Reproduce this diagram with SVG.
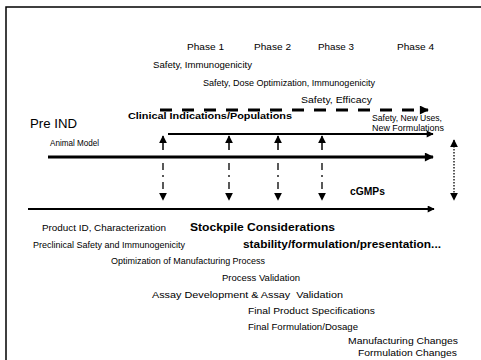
<svg xmlns="http://www.w3.org/2000/svg" width="481" height="360" viewBox="0 0 481 360">
  <style>
    text { font-family: "Liberation Sans", Arial, sans-serif; fill: #000; }
    .t { font-size: 9.5px; }
    .b { font-size: 9.5px; font-weight: bold; }
    .bl { font-size: 10.5px; font-weight: bold; }
    .line { stroke: #000; fill: none; }
  </style>
  <defs>
    <marker id="arrBig" viewBox="0 0 10 10" refX="9" refY="5" markerWidth="12" markerHeight="9" markerUnits="userSpaceOnUse" orient="auto">
      <path d="M0,0 L10,5 L0,10 z" fill="#000"/>
    </marker>
    <marker id="arrMid" viewBox="0 0 10 10" refX="9" refY="5" markerWidth="11" markerHeight="7" markerUnits="userSpaceOnUse" orient="auto">
      <path d="M0,0 L10,5 L0,10 z" fill="#000"/>
    </marker>
    <marker id="tip" viewBox="0 0 10 10" refX="9" refY="5" markerWidth="8" markerHeight="8" markerUnits="userSpaceOnUse" orient="auto-start-reverse">
      <path d="M0,0 L10,5 L0,10 z" fill="#000"/>
    </marker>
  </defs>

  <!-- frame -->
  <g id="frame">
    <path class="line" d="M6,360 L6,7 L481,7" stroke-width="1.5"/>
  </g>

  <!-- phase headings and clinical labels -->
  <g id="phases">
    <text class="t" x="187" y="50" textLength="37" lengthAdjust="spacingAndGlyphs">Phase 1</text>
    <text class="t" x="254" y="50" textLength="37" lengthAdjust="spacingAndGlyphs">Phase 2</text>
    <text class="t" x="318" y="50" textLength="36" lengthAdjust="spacingAndGlyphs">Phase 3</text>
    <text class="t" x="397" y="50" textLength="37" lengthAdjust="spacingAndGlyphs">Phase 4</text>
    <text class="t" x="153" y="68" textLength="99" lengthAdjust="spacingAndGlyphs">Safety, Immunogenicity</text>
    <text class="t" x="203" y="86" textLength="172" lengthAdjust="spacingAndGlyphs">Safety, Dose Optimization, Immunogenicity</text>
    <text class="t" x="301" y="103" textLength="71" lengthAdjust="spacingAndGlyphs">Safety, Efficacy</text>
    <text class="t" x="372" y="121" textLength="70" lengthAdjust="spacingAndGlyphs">Safety, New Uses,</text>
    <text class="t" x="372" y="131" textLength="72" lengthAdjust="spacingAndGlyphs">New Formulations</text>
  </g>

  <g id="clinical">
    <text class="b" x="128" y="119" textLength="164" lengthAdjust="spacingAndGlyphs">Clinical Indications/Populations</text>
  </g>

  <g id="preind">
    <text x="30" y="128" font-size="12" textLength="47" lengthAdjust="spacingAndGlyphs">Pre IND</text>
  </g>

  <g id="animal">
    <text class="t" x="50" y="146" textLength="49" lengthAdjust="spacingAndGlyphs">Animal Model</text>
  </g>

  <g id="cgmps">
    <text class="bl" x="350" y="195" textLength="35" lengthAdjust="spacingAndGlyphs">cGMPs</text>
  </g>

  <!-- manufacturing/product development labels -->
  <g id="development">
    <text class="t" x="42" y="231" textLength="124" lengthAdjust="spacingAndGlyphs">Product ID, Characterization</text>
    <text class="bl" x="190" y="231" textLength="145" lengthAdjust="spacingAndGlyphs">Stockpile Considerations</text>
    <text class="t" x="33" y="248" textLength="152" lengthAdjust="spacingAndGlyphs">Preclinical Safety and Immunogenicity</text>
    <text class="bl" x="243" y="248" textLength="198" lengthAdjust="spacingAndGlyphs">stability/formulation/presentation...</text>
    <text class="t" x="111" y="264" textLength="154" lengthAdjust="spacingAndGlyphs">Optimization of Manufacturing Process</text>
    <text class="t" x="222" y="281" textLength="78" lengthAdjust="spacingAndGlyphs">Process Validation</text>
    <text class="t" x="152" y="298" textLength="191" lengthAdjust="spacingAndGlyphs" xml:space="preserve">Assay Development &amp; Assay  Validation</text>
    <text class="t" x="248" y="314" textLength="127" lengthAdjust="spacingAndGlyphs">Final Product Specifications</text>
    <text class="t" x="248" y="330" textLength="110" lengthAdjust="spacingAndGlyphs">Final Formulation/Dosage</text>
    <text class="t" x="348" y="344" textLength="110" lengthAdjust="spacingAndGlyphs">Manufacturing Changes</text>
    <text class="t" x="358" y="356" textLength="99" lengthAdjust="spacingAndGlyphs">Formulation Changes</text>
  </g>

  <!-- connectors -->
  <g id="connectors" class="line">
    <!-- dashed clinical timeline -->
    <path d="M160,110 L428,110" stroke="#000" stroke-width="3" stroke-dasharray="12,10" marker-end="url(#arrBig)"/>
    <!-- clinical indications line -->
    <path d="M168,134 L433,134" stroke="#000" stroke-width="1.8" marker-end="url(#arrMid)"/>
    <!-- animal model line -->
    <path d="M48,157 L433,157" stroke="#000" stroke-width="3" marker-end="url(#arrBig)"/>
    <!-- cGMP line -->
    <path d="M28,209 L434,209" stroke="#000" stroke-width="1.8" marker-end="url(#arrMid)"/>

    <!-- up arrows into clinical line -->
    <path d="M163,150 L163,136" stroke="#000" stroke-width="1.5" marker-end="url(#tip)"/>
    <path d="M229,150 L229,136" stroke="#000" stroke-width="1.5" marker-end="url(#tip)"/>
    <path d="M278,150 L278,136" stroke="#000" stroke-width="1.5" marker-end="url(#tip)"/>
    <path d="M322,150 L322,136" stroke="#000" stroke-width="1.5" marker-end="url(#tip)"/>

    <!-- dashed down arrows to cGMP line -->
    <path d="M163,163 L163,200" stroke="#000" stroke-width="1.3" stroke-dasharray="7,5,2,5" marker-end="url(#tip)"/>
    <path d="M229,163 L229,200" stroke="#000" stroke-width="1.3" stroke-dasharray="7,5,2,5" marker-end="url(#tip)"/>
    <path d="M278,163 L278,200" stroke="#000" stroke-width="1.3" stroke-dasharray="7,5,2,5" marker-end="url(#tip)"/>
    <path d="M322,163 L322,200" stroke="#000" stroke-width="1.3" stroke-dasharray="7,5,2,5" marker-end="url(#tip)"/>

    <!-- dotted double-headed arrow -->
    <path d="M454,140 L454,200" stroke="#000" stroke-width="1.3" stroke-dasharray="1.5,1.5" marker-start="url(#tip)" marker-end="url(#tip)"/>
  </g>
</svg>
